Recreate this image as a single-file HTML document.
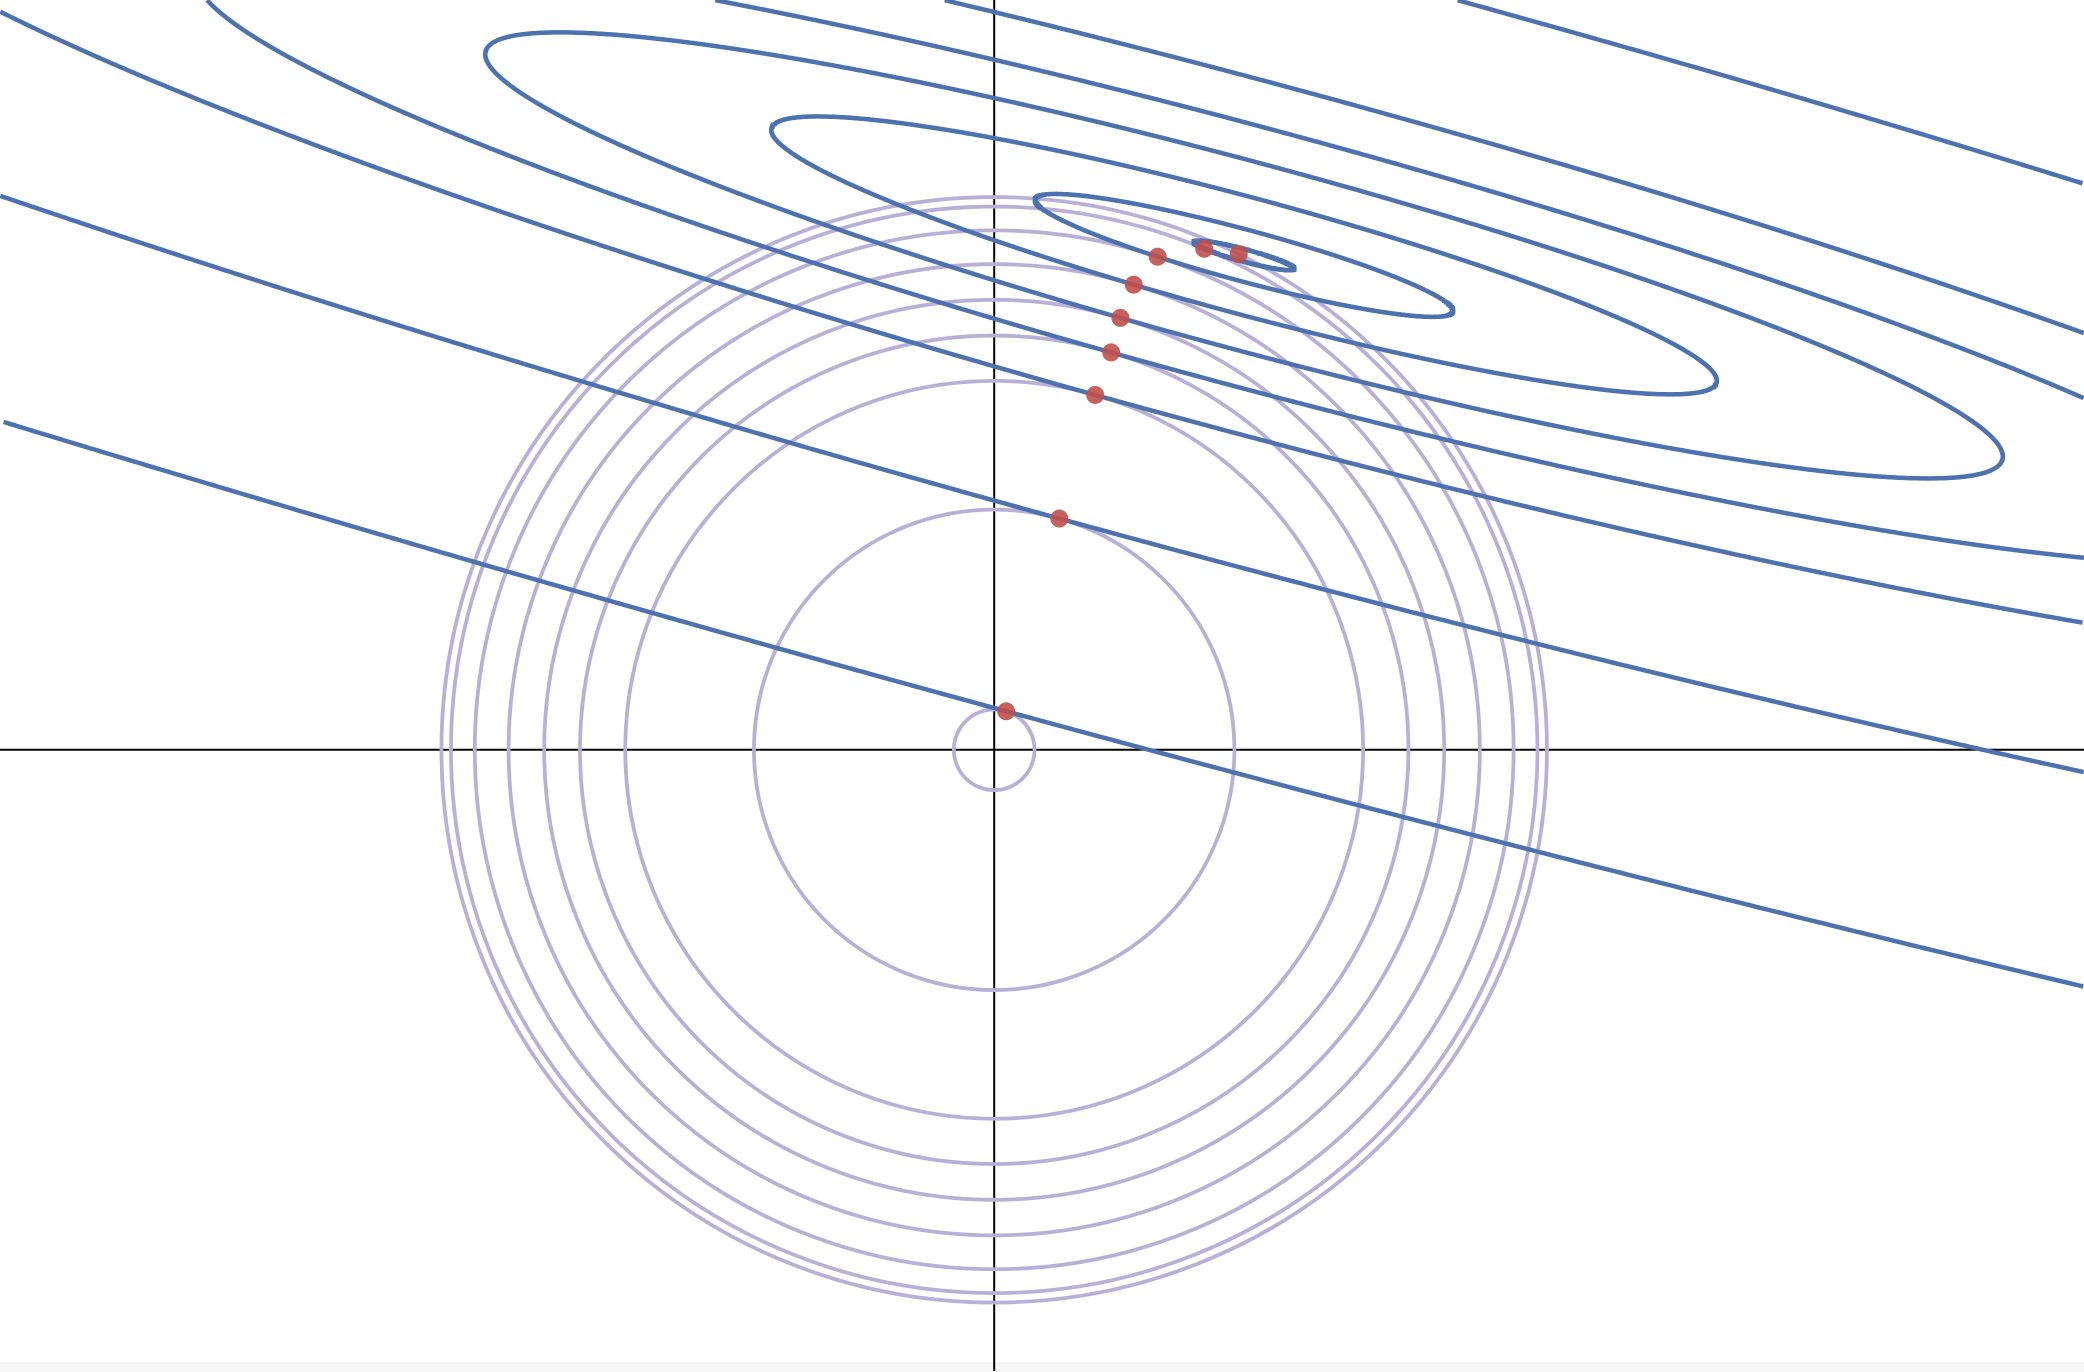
<!DOCTYPE html>
<html><head><meta charset="utf-8"><title>Ridge regression contours</title>
<style>html,body{margin:0;padding:0;background:#fff;overflow:hidden;width:2084px;height:1372px}svg{display:block;overflow:hidden}</style>
</head><body>
<svg id="chart" width="2084" height="1372" viewBox="0 0 2084 1372" xmlns="http://www.w3.org/2000/svg">
<rect x="0" y="0" width="2084" height="1372" fill="#ffffff"/>
<rect x="0" y="1362" width="2084" height="10" fill="#f6f6f6"/>
<g id="axes"></g><g id="circles"></g><g id="contours"></g><g id="points"></g>
</svg>
<script>
// Ridge path solution points (data coords)
const pathX = [0.09, 0.49, 0.76, 0.88, 0.95, 1.05, 1.23, 1.58, 1.84];
const pathY = [0.29, 1.74, 2.67, 2.99, 3.25, 3.50, 3.71, 3.77, 3.73];
// OLS minimum (loss centre)
const centerXY = [1.88, 3.72];
// loss quadratic form [[a,b],[b,c]]
const lossA = 0.0864, lossB = 0.265, lossC = 1.0;
// contours are drawn through the first N path points
const contourCount = 8;

const W = 2084, H = 1372;
const ox = 994.2, oy = 749.8, sc = 132.9;
function sx(x){ return ox + x*sc; }
function sy(y){ return oy - y*sc; }
const NS = 'http://www.w3.org/2000/svg';
function mk(tag, parent){ const e = document.createElementNS(NS, tag); document.getElementById(parent).appendChild(e); return e; }

// axes
const xa = mk('line','axes');


xa.setAttribute('x1',0); xa.setAttribute('x2',W); xa.setAttribute('y1',sy(0)); xa.setAttribute('y2',sy(0));
xa.setAttribute('stroke','#000'); xa.setAttribute('stroke-width','2');
const ya = mk('line','axes');


ya.setAttribute('x1',sx(0)); ya.setAttribute('x2',sx(0)); ya.setAttribute('y1',0); ya.setAttribute('y2',H-1);
ya.setAttribute('stroke','#000'); ya.setAttribute('stroke-width','2');

function loss(x,y){ const dx=x-centerXY[0], dy=y-centerXY[1]; return lossA*dx*dx + 2*lossB*dx*dy + lossC*dy*dy; }

// constraint circles
for (let i=0;i<pathX.length;i++){
  const r = Math.hypot(pathX[i], pathY[i]);
  const c = mk('circle','circles');
  
  
  c.setAttribute('cx', sx(0)); c.setAttribute('cy', sy(0)); c.setAttribute('r', r*sc);
  c.setAttribute('fill','none'); c.setAttribute('stroke','#b9b0d8'); c.setAttribute('stroke-width','3.8');
}

// eigen decomposition of loss form
const tr = lossA + lossC, dif = lossA - lossC;
const disc = Math.sqrt(dif*dif + 4*lossB*lossB);
const l1 = (tr + disc)/2, l2 = (tr - disc)/2;
let v1 = [lossB, l1 - lossA]; let n1 = Math.hypot(v1[0],v1[1]); v1=[v1[0]/n1, v1[1]/n1];
const v2 = [-v1[1], v1[0]];

function inside(px,py){ return px>=0 && px<=W && py>=0 && py<=H; }

for (let i=0;i<contourCount;i++){
  const k = loss(pathX[i], pathY[i]);
  const a1 = Math.sqrt(k/l1), a2 = Math.sqrt(k/l2);
  let d = '';
  const N = 4000;
  let pen = false;
  for (let j=0;j<=N;j++){
    const t = 2*Math.PI*j/N;
    const u = a1*Math.cos(t), v = a2*Math.sin(t);
    const x = centerXY[0] + u*v1[0] + v*v2[0];
    const y = centerXY[1] + u*v1[1] + v*v2[1];
    const px = sx(x), py = sy(y);
    if (inside(px,py)){
      d += (pen?'L':'M') + px.toFixed(1) + ',' + py.toFixed(1);
      pen = true;
    } else { pen = false; }
  }
  const p = mk('path','contours');
  
  
  p.setAttribute('d', d);
  p.setAttribute('fill','none'); p.setAttribute('stroke','#4c72b0'); p.setAttribute('stroke-width','4.5');
}

for (let i=0;i<pathX.length;i++){
  const c = mk('circle','points');
  
  
  c.setAttribute('cx', sx(pathX[i])); c.setAttribute('cy', sy(pathY[i])); c.setAttribute('r', 9);
  c.setAttribute('fill','#c0504d'); c.setAttribute('fill-opacity','0.9');
}
</script>
</body></html>
